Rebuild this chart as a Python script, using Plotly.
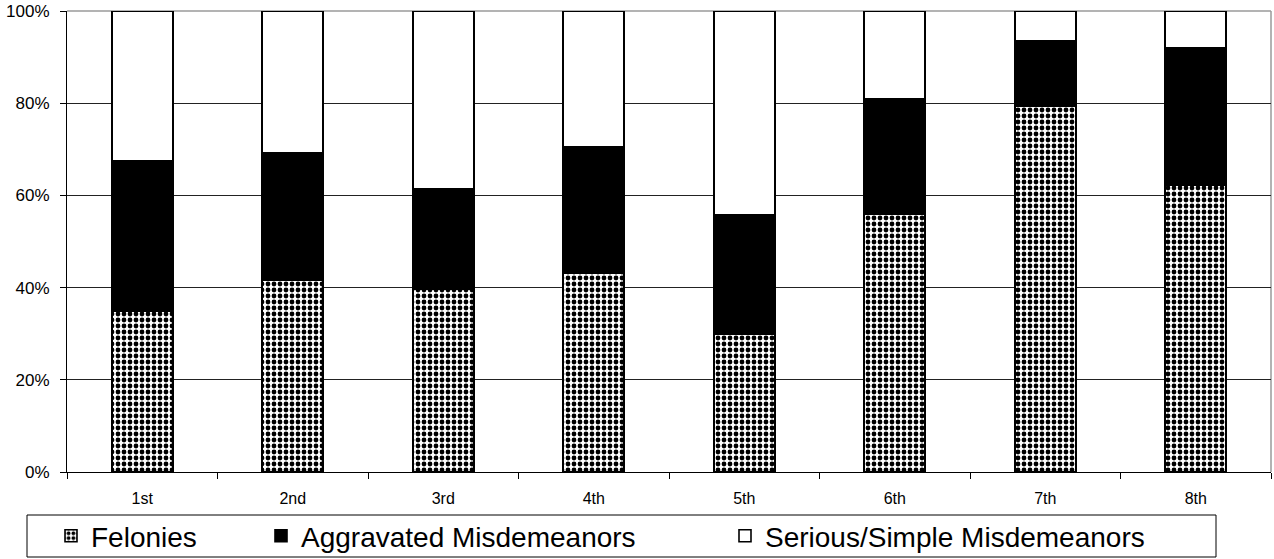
import plotly.graph_objects as go

districts = ["1st", "2nd", "3rd", "4th", "5th", "6th", "7th", "8th"]
felonies = [34.9, 41.6, 39.7, 43.1, 29.9, 56.0, 79.4, 62.3]
aggravated = [32.6, 27.6, 21.8, 27.4, 25.9, 24.9, 14.2, 29.7]
serious_simple = [32.5, 30.8, 38.5, 29.5, 44.2, 19.1, 6.4, 8.0]
y_ticks = [0, 20, 40, 60, 80, 100]
y_tick_labels = ["0%", "20%", "40%", "60%", "80%", "100%"]

FONT = "Liberation Sans, Arial, sans-serif"
W, H = 1274, 559
M_L, M_R, M_T, M_B = 67, 3, 11, 87
PLOT_W = W - M_L - M_R
PLOT_H = H - M_T - M_B


def px_to_paper_x(px):
    return (px - M_L) / PLOT_W


def px_to_paper_y(py):
    return (H - M_B - py) / PLOT_H


fig = go.Figure()
fig.add_trace(go.Bar(
    x=districts, y=felonies, name="Felonies", legend="legend",
    marker=dict(color="white",
                pattern=dict(shape=".", fgcolor="black", bgcolor="white",
                             size=6, solidity=0.5, fillmode="replace"),
                line=dict(color="black", width=1.6)),
))
fig.add_trace(go.Bar(
    x=districts, y=aggravated, name="Aggravated Misdemeanors", legend="legend2",
    marker=dict(color="black", line=dict(color="black", width=1.6)),
))
fig.add_trace(go.Bar(
    x=districts, y=serious_simple, name="Serious/Simple Misdemeanors", legend="legend3",
    marker=dict(color="white", line=dict(color="black", width=1.6)),
))

legend_y = px_to_paper_y(536)
legend_common = dict(
    orientation="h", yanchor="middle", y=legend_y, xanchor="left",
    font=dict(size=28, family=FONT, color="black"),
    borderwidth=0, bgcolor="rgba(0,0,0,0)", itemwidth=30,
)

fig.update_layout(
    width=W, height=H,
    margin=dict(l=M_L, r=M_R, t=M_T, b=M_B, autoexpand=False),
    barmode="stack", bargap=0.595,
    plot_bgcolor="white", paper_bgcolor="white",
    font=dict(family=FONT, color="black"),
    showlegend=True,
    legend=dict(x=px_to_paper_x(51), **legend_common),
    legend2=dict(x=px_to_paper_x(261), **legend_common),
    legend3=dict(x=px_to_paper_x(725), **legend_common),
    xaxis=dict(
        showline=True, linecolor="black", linewidth=1,
        ticks="outside", ticklen=6, tickcolor="black", tickson="boundaries",
        tickfont=dict(size=16, family=FONT), ticklabelstandoff=12,
        showgrid=False, fixedrange=True,
    ),
    yaxis=dict(
        range=[0, 100], tickvals=y_ticks, ticktext=y_tick_labels,
        showline=True, linecolor="black", linewidth=1,
        ticks="outside", ticklen=6, tickcolor="black",
        tickfont=dict(size=17, family=FONT), ticklabelstandoff=7,
        showgrid=True, gridcolor="#222222", gridwidth=1,
        zeroline=False,
    ),
)

# light frame along the top and right of the plotting area
fig.add_shape(type="line", xref="paper", yref="paper", x0=0, x1=1, y0=1, y1=1,
              line=dict(color="#9a9a9a", width=1.5), layer="below")
fig.add_shape(type="line", xref="paper", yref="paper", x0=1, x1=1, y0=0, y1=1,
              line=dict(color="#9a9a9a", width=1.5), layer="below")

# box around the legend row
fig.add_shape(type="rect", xref="paper", yref="paper",
              x0=px_to_paper_x(27), x1=px_to_paper_x(1216),
              y0=px_to_paper_y(557), y1=px_to_paper_y(515),
              line=dict(color="black", width=1), fillcolor="rgba(0,0,0,0)")

fig.write_html("out.html")
